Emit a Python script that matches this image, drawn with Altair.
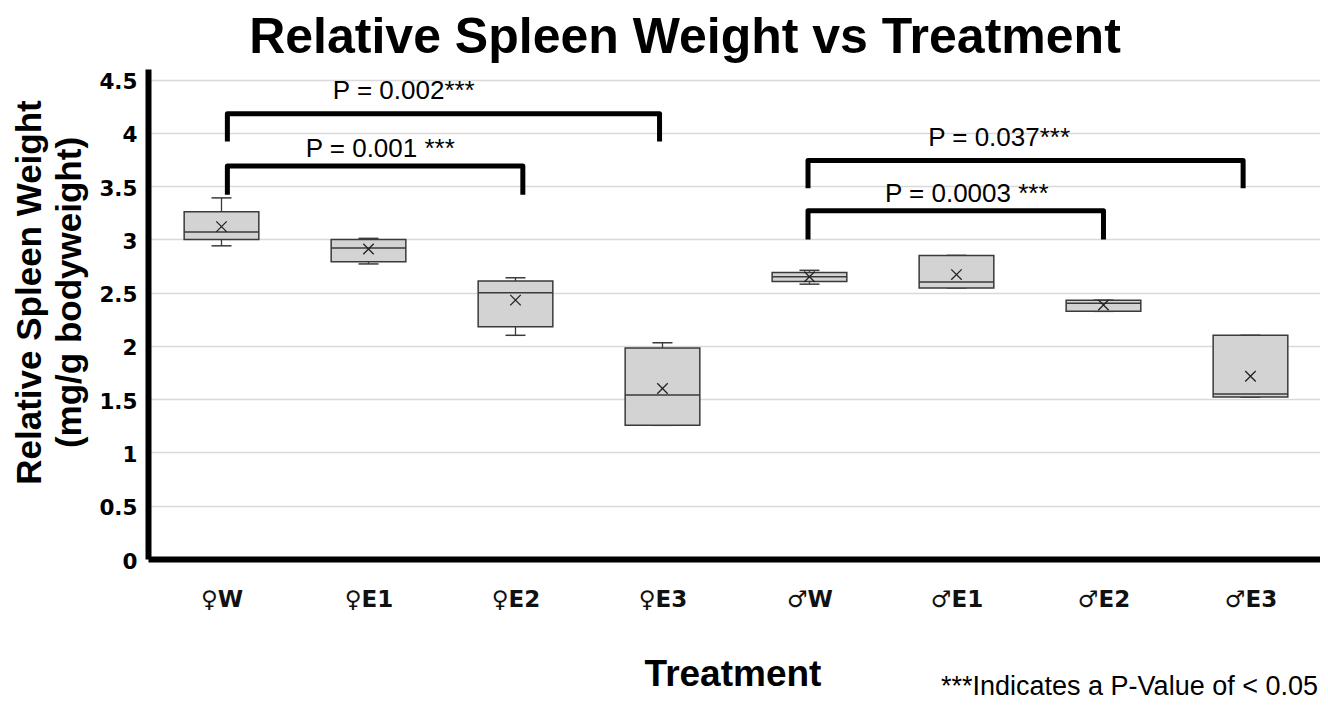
import json
import altair as alt
import pandas as pd

# ---- data ----
groups = ["♀W", "♀E1", "♀E2", "♀E3", "♂W", "♂E1", "♂E2", "♂E3"]
whisker_low = [2.94, 2.77, 2.10, 1.255, 2.58, 2.545, 2.325, 1.52]
q1 = [3.00, 2.79, 2.18, 1.255, 2.605, 2.545, 2.325, 1.52]
median = [3.07, 2.92, 2.50, 1.54, 2.65, 2.60, 2.40, 1.55]
q3 = [3.26, 3.00, 2.61, 1.98, 2.69, 2.85, 2.43, 2.10]
whisker_high = [3.39, 3.01, 2.64, 2.03, 2.71, 2.85, 2.43, 2.10]
means = [3.12, 2.91, 2.43, 1.60, 2.65, 2.67, 2.385, 1.715]

# significance brackets (positions in group-index units, heights in mg/g)
bracket_from = [0.04, 0.04, 3.99, 3.99]
bracket_to = [2.98, 2.05, 6.95, 6.00]
bracket_top = [4.18, 3.69, 3.74, 3.27]
bracket_end = [3.92, 3.42, 3.48, 3.00]
p_labels = ["P = 0.002***", "P = 0.001 ***", "P = 0.037***", "P = 0.0003 ***"]
p_label_x = [1.24, 1.08, 5.29, 5.07]
p_label_y = [4.316, 3.77, 3.875, 3.35]

y_ticks = [0, 0.5, 1, 1.5, 2, 2.5, 3, 3.5, 4, 4.5]
title_text = "Relative Spleen Weight vs Treatment"
footnote = "***Indicates a P-Value of < 0.05"

# ---- tables ----
boxes = pd.DataFrame({
    "idx": list(range(len(groups))),
    "group": groups,
    "wlo": whisker_low, "q1": q1, "med": median, "q3": q3,
    "whi": whisker_high, "mean": means,
})

rows = []
for i in range(len(bracket_from)):
    pts = [(bracket_from[i], bracket_end[i]), (bracket_from[i], bracket_top[i]),
           (bracket_to[i], bracket_top[i]), (bracket_to[i], bracket_end[i])]
    for k, (bx, by) in enumerate(pts):
        rows.append({"b": i, "ord": k, "bx": bx, "by": by})
brackets = pd.DataFrame(rows)

labels_df = pd.DataFrame({"t": p_labels, "lx": p_label_x, "ly": p_label_y})

BOX_HALF = 0.254
CAP_HALF = 0.068
EDGE = "#3a3a3a"

x_scale = alt.Scale(domain=[-0.5, 7.473], nice=False, zero=False)
y_scale = alt.Scale(domain=[0, 4.6], nice=False, zero=False)

x_axis = alt.Axis(
    values=list(range(len(groups))),
    labelExpr=json.dumps(groups, ensure_ascii=False) + "[datum.value]",
    title="Treatment",
    grid=False, ticks=False, tickSize=0,
    domainColor="black", domainWidth=6,
    labelFont="DejaVu Sans", labelFontSize=23, labelFontWeight="bold",
    labelColor="#111111", labelPadding=29, labelBaseline="top",
    titleFont="Liberation Sans", titleFontSize=37, titleFontWeight="bold",
    titleColor="black", titleX=584.5, titleY=126.3,
    titleBaseline="alphabetic", titleAlign="center",
)
y_axis = alt.Axis(
    values=y_ticks, format="~g",
    title=["Relative Spleen Weight", "(mg/g bodyweight)"],
    grid=True, gridColor="#d9d9d9", gridWidth=1.5,
    ticks=False, tickSize=0,
    domainColor="black", domainWidth=6,
    labelFont="DejaVu Sans", labelFontSize=21.5, labelFontWeight="bold",
    labelColor="black", labelPadding=11, labelOffset=3,
    titleFont="Liberation Sans", titleFontSize=35, titleFontWeight="bold",
    titleColor="black", titleAngle=270, titleX=-108, titleY=223,
    titleAlign="center", titleBaseline="alphabetic", titleLineHeight=40,
)


def X(field):
    return alt.X(field, type="quantitative", scale=x_scale, axis=x_axis)


def Y(field):
    return alt.Y(field, type="quantitative", scale=y_scale, axis=y_axis)


base = alt.Chart(boxes).transform_calculate(
    bx0=f"datum.idx - {BOX_HALF}", bx1=f"datum.idx + {BOX_HALF}",
    cx0=f"datum.idx - {CAP_HALF}", cx1=f"datum.idx + {CAP_HALF}",
)

whisker = base.mark_rule(color=EDGE, strokeWidth=1.3).encode(
    x=X("idx"), y=Y("wlo"), y2="whi")
cap_hi = base.mark_rule(color=EDGE, strokeWidth=1.5).encode(
    x=X("cx0"), x2="cx1", y=Y("whi"))
cap_lo = base.mark_rule(color=EDGE, strokeWidth=1.5).encode(
    x=X("cx0"), x2="cx1", y=Y("wlo"))
box = base.mark_bar(fill="#d3d3d3", stroke=EDGE, strokeWidth=1.5).encode(
    x=X("bx0"), x2="bx1", y=Y("q1"), y2="q3")
med_rule = base.mark_rule(color=EDGE, strokeWidth=1.5).encode(
    x=X("bx0"), x2="bx1", y=Y("med"))
mean_pt = base.mark_point(
    shape="M-1,-1L1,1M-1,1L1,-1", size=110, filled=False,
    stroke="#222222", strokeWidth=1.3, opacity=1,
).encode(x=X("idx"), y=Y("mean"))

bracket_lines = alt.Chart(brackets).mark_line(
    color="black", strokeWidth=5, strokeJoin="round", strokeCap="butt"
).encode(x=X("bx"), y=Y("by"), detail="b:N", order="ord:Q")

p_text = alt.Chart(labels_df).mark_text(
    font="Liberation Sans", fontSize=26, color="black",
    align="center", baseline="alphabetic",
).encode(x=X("lx"), y=Y("ly"), text="t:N")

title_mark = alt.Chart(pd.DataFrame({"t": [title_text]})).mark_text(
    font="Liberation Sans", fontSize=50, fontWeight="bold", color="black",
    align="center", baseline="alphabetic",
).encode(x=alt.value(537), y=alt.value(-16), text="t:N")

foot = alt.Chart(pd.DataFrame({"t": [footnote]})).mark_text(
    font="Liberation Sans", fontSize=27, color="black",
    align="right", baseline="alphabetic",
).encode(x=alt.value(1170), y=alt.value(626), text="t:N")

chart = alt.layer(
    whisker, cap_hi, cap_lo, box, med_rule, mean_pt, bracket_lines, p_text,
    title_mark, foot
).properties(
    width=1172, height=490,
    autosize=alt.AutoSizeParams(type="none"),
    padding={"left": 140, "top": 61, "right": 0, "bottom": 144},
).configure_view(strokeWidth=0)

chart.save("out.html", embed_options={"renderer": "svg", "actions": False})
